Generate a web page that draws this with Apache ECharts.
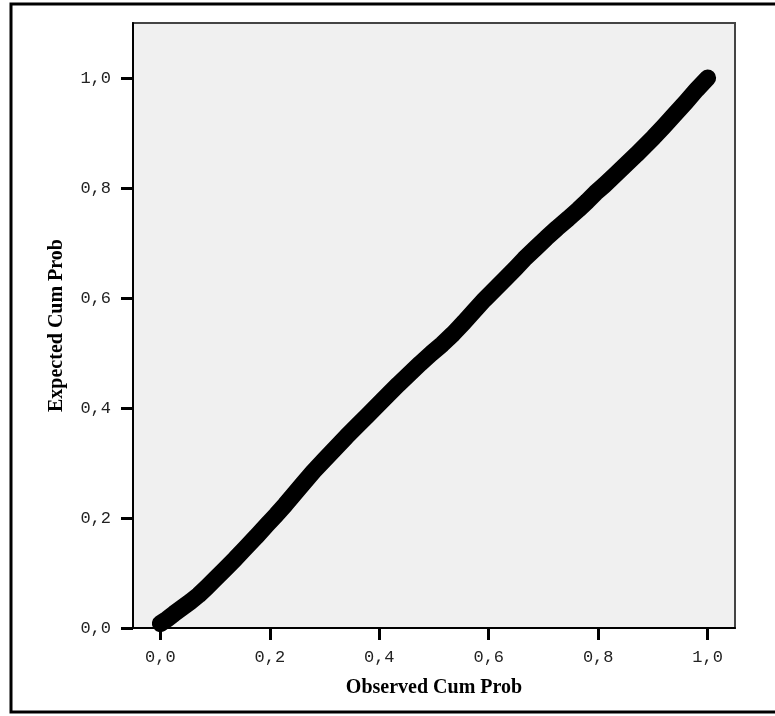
<!DOCTYPE html>
<html>
<head>
<meta charset="utf-8">
<script src="https://cdn.jsdelivr.net/npm/echarts@6/dist/echarts.min.js"></script>
<style>
html, body { margin: 0; padding: 0; background: #fff; }
#main { width: 775px; height: 716px; }
</style>
</head>
<body>
<div id="main"></div>
<script>
// observed vs expected cumulative probability (P-P plot)
var observed = [0.000, 0.012, 0.025, 0.040, 0.055, 0.070, 0.085, 0.100, 0.118, 0.137,
	0.155, 0.175, 0.195, 0.212, 0.228, 0.245, 0.262, 0.280, 0.300, 0.320,
	0.340, 0.360, 0.378, 0.396, 0.415, 0.435, 0.455, 0.475, 0.495, 0.515,
	0.535, 0.555, 0.573, 0.592, 0.612, 0.632, 0.650, 0.665, 0.685, 0.705,
	0.725, 0.745, 0.764, 0.780, 0.795, 0.811, 0.830, 0.850, 0.870, 0.885,
	0.901, 0.920, 0.940, 0.960, 0.980, 1.000];
var expected = [0.008, 0.016, 0.026, 0.037, 0.048, 0.060, 0.074, 0.089, 0.107, 0.126,
	0.145, 0.166, 0.188, 0.206, 0.224, 0.244, 0.264, 0.285, 0.306, 0.327,
	0.348, 0.368, 0.386, 0.404, 0.423, 0.443, 0.462, 0.481, 0.499, 0.516,
	0.535, 0.556, 0.576, 0.597, 0.617, 0.637, 0.655, 0.671, 0.690, 0.709,
	0.727, 0.744, 0.761, 0.776, 0.791, 0.805, 0.823, 0.842, 0.861, 0.876,
	0.892, 0.912, 0.934, 0.956, 0.979, 1.000];
var tickValues = [0, 0.2, 0.4, 0.6, 0.8, 1.0];

var points = observed.map(function(v, i) { return [v, expected[i]]; });

function fmt(v) {
	return v.toFixed(1).replace('.', ',');
}

var myChart = echarts.init(document.getElementById('main'));
var option = {
	backgroundColor: '#fff',
	animation: false,
	graphic: [{
		type: 'rect',
		shape: { x: 11, y: 4, width: 790, height: 708 },
		style: { fill: 'none', stroke: '#000', lineWidth: 3 },
		silent: true
	}],
	grid: {
		left: 133,
		top: 23,
		right: 40,
		bottom: 88,
		show: true,
		backgroundColor: '#f0f0f0',
		borderColor: '#444',
		borderWidth: 2
	},
	xAxis: {
		type: 'value',
		min: -0.05,
		max: 1.05,
		name: 'Observed Cum Prob',
		nameLocation: 'middle',
		nameGap: 50,
		nameTextStyle: { fontFamily: 'Liberation Serif', fontWeight: 'bold', fontSize: 20, color: '#000' },
		axisLine: { onZero: false, lineStyle: { color: '#000', width: 2 } },
		axisTick: { show: true, length: 12, customValues: tickValues, lineStyle: { color: '#000', width: 3 } },
		axisLabel: {
			customValues: tickValues,
			formatter: fmt,
			margin: 21,
			fontFamily: 'Liberation Mono',
			fontSize: 17,
			color: '#222'
		},
		splitLine: { show: false }
	},
	yAxis: {
		type: 'value',
		min: 0,
		max: 1.1,
		name: 'Expected Cum Prob',
		nameLocation: 'middle',
		nameGap: 66,
		nameTextStyle: { fontFamily: 'Liberation Serif', fontWeight: 'bold', fontSize: 20, color: '#000' },
		axisLine: { show: true, onZero: false, lineStyle: { color: '#000', width: 2 } },
		axisTick: { show: true, length: 12, customValues: tickValues, lineStyle: { color: '#000', width: 3 } },
		axisLabel: {
			customValues: tickValues,
			formatter: fmt,
			margin: 22,
			fontFamily: 'Liberation Mono',
			fontSize: 17,
			color: '#222'
		},
		splitLine: { show: false }
	},
	series: [{
		type: 'line',
		data: points,
		showSymbol: false,
		symbol: 'none',
		clip: true,
		lineStyle: { color: '#000', width: 17, cap: 'round', join: 'round' }
	}]
};
myChart.setOption(option);
</script>
</body>
</html>
